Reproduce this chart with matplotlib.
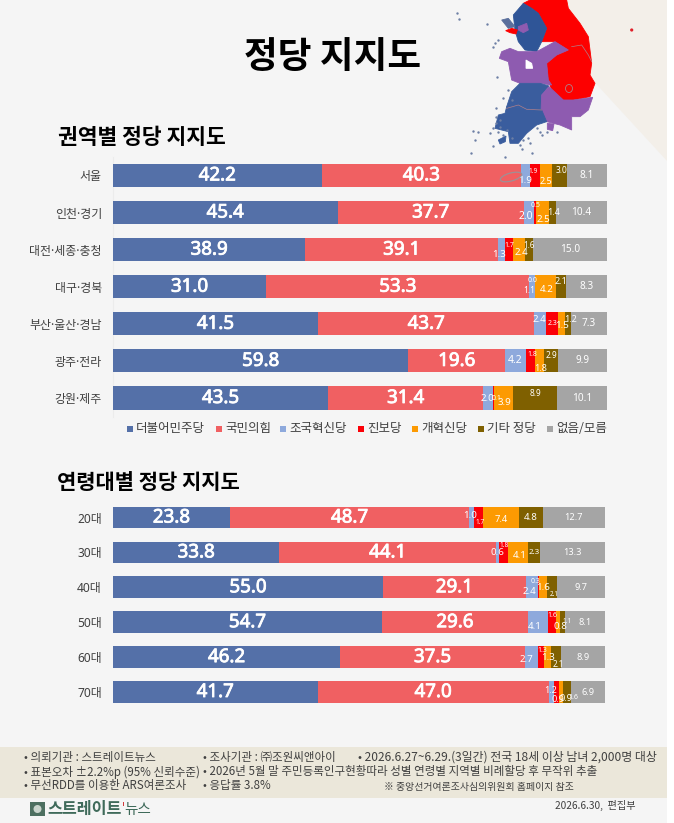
import matplotlib
matplotlib.use('Agg')
import matplotlib.pyplot as plt
import matplotlib.patheffects as pe
from matplotlib.patches import Polygon, Rectangle, Circle, Ellipse

plt.rcParams['font.family'] = ['Noto Sans', 'Noto Sans CJK KR', 'DejaVu Sans']

W, H = 674, 823
CJK = ['Noto Sans CJK KR', 'DejaVu Sans']

parties = ['더불어민주당', '국민의힘', '조국혁신당', '진보당', '개혁신당', '기타 정당', '없음/모름']
colors = ['#5470a8', '#f06062', '#8ea9dc', '#fb0007', '#fc9a02', '#7f6000', '#a5a5a5']

regions = ['서울', '인천·경기', '대전·세종·충청', '대구·경북', '부산·울산·경남', '광주·전라', '강원·제주']
dem_r = [42.2, 45.4, 38.9, 31.0, 41.5, 59.8, 43.5]
ppp_r = [40.3, 37.7, 39.1, 53.3, 43.7, 19.6, 31.4]
rebuild_r = [1.9, 2.0, 1.3, 1.1, 2.4, 4.2, 2.0]
prog_r = [1.9, 0.5, 1.7, 0.0, 2.3, 1.8, 0.1]
reform_r = [2.5, 2.5, 2.4, 4.2, 1.5, 1.8, 3.9]
other_r = [3.0, 1.4, 1.6, 2.1, 1.2, 2.9, 8.9]
none_r = [8.1, 10.4, 15.0, 8.3, 7.3, 9.9, 10.1]

ages = ['20대', '30대', '40대', '50대', '60대', '70대']
dem_a = [23.8, 33.8, 55.0, 54.7, 46.2, 41.7]
ppp_a = [48.7, 44.1, 29.1, 29.6, 37.5, 47.0]
rebuild_a = [1.0, 0.6, 2.4, 4.1, 2.7, 1.2]
prog_a = [1.7, 1.8, 0.3, 1.6, 1.3, 0.9]
reform_a = [7.4, 4.1, 1.6, 0.8, 1.3, 0.9]
other_a = [4.8, 2.3, 2.1, 1.1, 2.1, 1.6]
none_a = [12.7, 13.3, 9.7, 8.1, 8.9, 6.9]

# the small labels sit by hand in the original: (series, row) -> dx px, dy px, font size
style_r = {
    (2, 0): (-1, 5, 7), (3, 0): (-2, -4.4, 4.8), (4, 0): (0.5, 5.6, 6.5), (5, 0): (1.5, -5, 6),
    (2, 1): (-2.6, 4, 7.5), (3, 1): (0.4, -7.5, 5), (4, 1): (0.7, 6.5, 7), (5, 1): (1, 0, 6.5),
    (2, 2): (-2.2, 4.7, 7), (3, 2): (0, -4.6, 5), (4, 2): (2.3, 3, 7), (5, 2): (0.3, -4.6, 5.8),
    (2, 3): (-3, 4, 6), (3, 3): (-2.6, -6, 5), (4, 3): (1, 3, 7), (5, 3): (0.2, -5.7, 6.5),
    (2, 4): (-1.2, -4.6, 7), (3, 4): (0.5, 0, 5), (4, 4): (1, 1.2, 7), (5, 4): (2.4, -4.8, 6.5),
    (2, 5): (-0.6, 0, 7.5), (3, 5): (1.9, -6.9, 5), (4, 5): (1.7, 7.4, 6.5), (5, 5): (0.7, -5, 6),
    (2, 6): (-1.3, 0, 7), (3, 6): (2.6, 0, 5), (4, 6): (1, 4.7, 7), (5, 6): (0.5, -5, 6),
}
style_a = {
    (2, 0): (-1.5, -2, 7), (3, 0): (2, 5, 4.7), (4, 0): (0.7, 2.5, 6.7), (5, 0): (0, 0.5, 7),
    (2, 1): (0, 0, 7), (3, 1): (0.6, -6.7, 4.8), (4, 1): (2, 2.6, 7), (5, 1): (0, 0.3, 5.7),
    (2, 2): (-2, 4.4, 7), (3, 2): (-2.6, -5.6, 5), (4, 2): (0, 0, 7), (5, 2): (1.7, 7, 4.5),
    (2, 3): (-2.6, 4.5, 7), (3, 3): (0.7, -6.5, 5), (4, 3): (2.5, 4.5, 7), (5, 3): (4.8, -1, 4.8),
    (2, 4): (-5, 2.3, 7), (3, 4): (1, -7, 5), (4, 4): (0.8, 0, 7), (5, 4): (2.5, 7.3, 5.8),
    (2, 5): (-0.5, -2, 6.5), (3, 5): (1.8, 7, 6.5), (4, 5): (5, 6, 6.5), (5, 5): (5.7, 5, 5),
}
# 없음/모름 font size per chart
none_size = {'r': 7.2, 'a': 6.6}
# Noto Sans has no heavier cut here, a thin outline thickens the big numbers
thick = [pe.withStroke(linewidth=0.6, foreground='white')]


def axes_px(fig, x0, y0, x1, y1):
    return fig.add_axes([x0 / W, 1 - y1 / H, (x1 - x0) / W, (y1 - y0) / H])


def draw_bars(ax, rows, series, style, kind):
    y = list(range(len(rows)))
    totals = [sum(s[j] for s in series) for j in y]
    left = [0] * len(rows)
    for i, vals in enumerate(series):
        # rows are 100% stacked, the printed numbers do not always add up
        widths = [v / t * 100 for v, t in zip(vals, totals)]
        ax.barh(y, widths, left=left, height=0.62, color=colors[i], linewidth=0)
        for j, v in enumerate(vals):
            dx, dy, fs = style.get((i, j), (0, 0, none_size[kind]))
            if i < 2:
                fs = 13.5
            t = ax.annotate(f'{v:.1f}', (left[j] + widths[j] / 2, j),
                            xytext=(dx * 0.72, -dy * 0.72), textcoords='offset points',
                            ha='center', va='center', color='white', fontsize=fs)
            if i < 2:
                t.set_path_effects(thick)
        left = [a + b for a, b in zip(left, widths)]
    ax.set_xlim(0, 100)
    ax.set_ylim(len(rows) - 0.5, -0.5)
    ax.set_xticks([])
    ax.set_yticks(y, rows)
    ax.tick_params(axis='y', length=0, pad=8, labelsize=8.6, labelcolor='#404040')
    for lab in ax.get_yticklabels():
        lab.set_fontweight('medium')
    for s in ax.spines.values():
        s.set_visible(False)
    ax.patch.set_alpha(0)


def zoomed(points):
    return [(440 + x / 3, y / 3) for x, y in points]


fig = plt.figure(figsize=(W / 100, H / 100), dpi=100, facecolor='white')

bg = fig.add_axes([0, 0, 1, 1])
bg.set_xlim(0, W)
bg.set_ylim(H, 0)
bg.axis('off')
bg.add_patch(Rectangle((0, 0), 667, H, color='#f5f5f5', lw=0))
bg.add_patch(Polygon([(519, 0), (667, 0), (667, 161)], color='#f3efe9', lw=0))
bg.add_patch(Rectangle((0, 747), 667, 51, color='#ebe7da', lw=0))
bg.plot([113, 113], [157, 417], color='#ececec', lw=0.8)

# map of the provinces (decoration)
red = '#fd0000'
blue = '#2f5597'
jeolla = '#3a5d9e'
purple = '#8e5bb0'
map_parts = [
    ([(250, 10), (270, 0), (380, 0), (385, 25), (420, 70), (445, 110), (450, 150), (455, 190), (450, 225),
      (465, 250), (450, 290), (400, 300), (370, 300), (335, 270), (325, 240), (320, 190), (350, 165),
      (385, 150), (345, 125), (305, 125), (320, 85), (295, 40), (275, 25)], red),
    ([(250, 10), (275, 25), (295, 40), (320, 85), (305, 125), (290, 155), (255, 150), (235, 125), (225, 90),
      (220, 45)], blue),
    ([(210, 145), (235, 155), (290, 155), (345, 125), (385, 150), (350, 165), (320, 190), (325, 240),
      (335, 255), (300, 250), (240, 250), (215, 240), (205, 185), (178, 175), (185, 155)], purple),
    ([(240, 250), (300, 250), (327, 258), (305, 285), (305, 330), (250, 325), (200, 320), (215, 275)], jeolla),
    ([(327, 260), (340, 272), (370, 300), (400, 300), (458, 292), (445, 330), (420, 350), (395, 350), (395, 390),
      (360, 375), (320, 365), (303, 335), (305, 285)], purple),
    ([(200, 320), (250, 325), (305, 330), (320, 365), (290, 375), (260, 400), (235, 430), (210, 430),
      (205, 395), (165, 385), (175, 345), (195, 340)], jeolla),
    ([(235, 80), (260, 70), (265, 90), (250, 98), (235, 90)], purple),
    ([(197, 92), (215, 85), (232, 90), (228, 102), (210, 98)], red),
    ([(258, 180), (275, 190), (278, 205), (258, 205)], 'white'),
    ([(185, 60), (205, 55), (225, 80), (205, 85)], '#5a6f9c'),
    ([(322, 370), (342, 372), (338, 392), (322, 388)], purple),
    ([(175, 420), (198, 408), (196, 425), (180, 432)], jeolla),
]
for pts, c in map_parts:
    bg.add_patch(Polygon(zoomed(pts), fc=c, ec=c, lw=0.6))
for outline in ([(395, 140), (425, 135), (445, 165), (455, 185)],
                [(200, 325), (235, 315), (260, 328), (305, 330)]):
    bg.plot(*zip(*zoomed(outline)), color='#b0808a', lw=0.5)
bg.add_patch(Ellipse((569, 88.5), 7, 8, fill=False, ec='#b0808a', lw=0.6))
island_x = [52, 58, 140, 175, 165, 160, 172, 205, 190, 215, 167, 150, 115, 98, 105, 92, 160, 245, 275, 300,
            320, 350, 195, 240, 270, 168, 180, 158, 175, 190, 168, 180, 200, 215, 290, 305, 265, 250]
island_y = [40, 58, 72, 120, 130, 140, 230, 270, 295, 300, 325, 400, 395, 392, 420, 458, 438, 448, 460, 395,
            395, 395, 470, 435, 430, 350, 360, 385, 395, 405, 370, 380, 390, 415, 385, 405, 415, 420]
bg.scatter([440 + x / 3 for x in island_x], [y / 3 for y in island_y], s=3, color='#6d7fa5', lw=0)
bg.add_patch(Circle((631.7, 30), 1.6, color='#e0202a', lw=0))

bg.text(333, 57, '정당 지지도', ha='center', va='center', fontsize=26.4, fontweight='black', family=CJK, color='black')
bg.text(58, 137, '권역별 정당 지지도', ha='left', va='center', fontsize=15.5, fontweight='bold', family=CJK, color='black')
bg.text(57, 482, '연령대별 정당 지지도', ha='left', va='center', fontsize=15.1, fontweight='bold', family=CJK, color='black')

# legend
legend_x = [127, 216, 280, 358, 412, 478, 547]
for x, name, c in zip(legend_x, parties, colors):
    bg.add_patch(Rectangle((x, 426), 6, 6, color=c, lw=0))
    bg.text(x + 9, 428.5, name, ha='left', va='center', fontsize=9, fontweight='medium', family=CJK, color='#404040')

ax1 = axes_px(fig, 113, 156.85, 607, 416.55)
draw_bars(ax1, regions, [dem_r, ppp_r, rebuild_r, prog_r, reform_r, other_r, none_r], style_r, 'r')
ax2 = axes_px(fig, 113, 500.05, 605, 709.45)
draw_bars(ax2, ages, [dem_a, ppp_a, rebuild_a, prog_a, reform_a, other_a, none_a], style_a, 'a')

# grey map outline that runs over the first bar in the original
top = fig.add_axes([0, 0, 1, 1])
top.set_xlim(0, W)
top.set_ylim(H, 0)
top.axis('off')
top.add_patch(Ellipse((511, 177), 22, 8, angle=-15, fill=False, ec='#a08f95', lw=0.9))

# footer
foot = [(24, 757, '• 의뢰기관 : 스트레이트뉴스', 8.3), (203, 757, '• 조사기관 : ㈜조원씨앤아이', 8.3),
        (358, 757, '• 2026.6.27~6.29.(3일간) 전국 18세 이상 남녀 2,000명 대상', 8.6),
        (24, 772, '• 표본오차 ±2.2%p (95% 신뢰수준)', 8.3),
        (203, 772, '• 2026년 5월 말 주민등록인구현황따라 성별 연령별 지역별 비례할당 후 무작위 추출', 8.3),
        (24, 786, '• 무선RDD를 이용한 ARS여론조사', 8.3), (203, 786, '• 응답률 3.8%', 8.3)]
for x, y, s, fs in foot:
    bg.text(x, y, s, ha='left', va='center', fontsize=fs, family=CJK, color='#404040')
bg.text(384, 787, '※ 중앙선거여론조사심의위원회 홈페이지 참조', ha='left', va='center', fontsize=7.1, family=CJK, color='#404040')
bg.text(555, 805, '2026.6.30,  편집부', ha='left', va='center', fontsize=7.3, family=CJK, color='#404040')
bg.add_patch(Rectangle((30, 802), 15, 14, color='#4d6f60', lw=0))
bg.add_patch(Circle((37.5, 809), 4, color='#c9d4cc', lw=0))
bg.text(47.5, 809, '스트레이트', ha='left', va='center', fontsize=11.7, fontweight='bold', family=CJK, color='#3f6a5a')
bg.add_patch(Rectangle((122.5, 802), 1.5, 4, color='#d23a3a', lw=0))
bg.text(124.5, 810, '뉴스', ha='left', va='center', fontsize=10.5, family=CJK, color='#3f6a5a')

fig.savefig('out.png', dpi=100)
